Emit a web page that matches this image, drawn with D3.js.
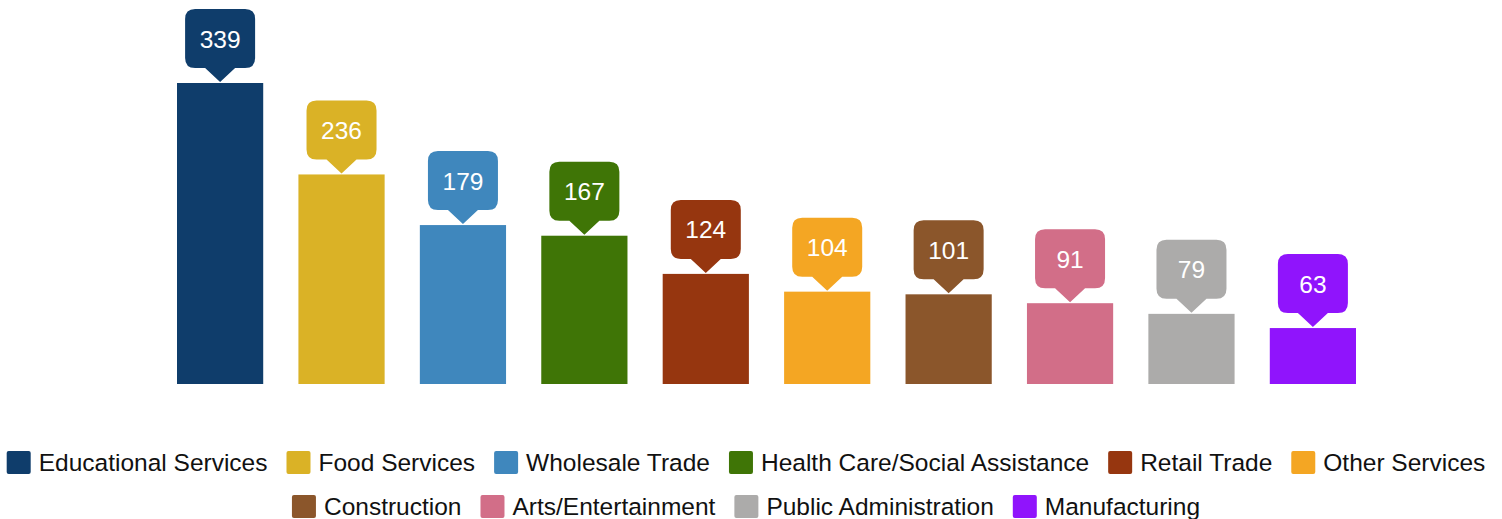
<!DOCTYPE html>
<html>
<head>
<meta charset="utf-8">
<script src="https://cdn.jsdelivr.net/npm/d3@7"></script>
<style>
  body { margin: 0; background: #fff; }
  text { font-family: "Liberation Sans", Arial, sans-serif; }
</style>
</head>
<body>
<div class="chart"></div>
<script>
var svgWidth = 1502;
var svgHeight = 519;

// chart data
var categories = ["Educational Services", "Food Services", "Wholesale Trade", "Health Care/Social Assistance",
  "Retail Trade", "Other Services", "Construction", "Arts/Entertainment", "Public Administration", "Manufacturing"];
var values = [339, 236, 179, 167, 124, 104, 101, 91, 79, 63];
var colors = ["#0f3d6b", "#dab226", "#3f87bd", "#3f7506", "#96360f", "#f4a623", "#8b562b", "#d26e88", "#acabaa", "#9014fc"];
var legendRows = [6, 4];

var svg = d3.select(".chart")
  .append("svg")
  .attr("width", svgWidth)
  .attr("height", svgHeight);

var data = categories.map((c, i) => ({ name: c, value: values[i], color: colors[i] }));

var xScale = d3.scaleBand()
  .domain(categories)
  .range([177, 1356])
  .paddingInner(0.29)
  .paddingOuter(0);

var yScale = d3.scaleLinear()
  .domain([0, 339])
  .range([384, 83]);

// bars
svg.append("g").selectAll("rect")
  .data(data)
  .enter()
  .append("rect")
  .attr("x", d => xScale(d.name))
  .attr("y", d => yScale(d.value))
  .attr("width", xScale.bandwidth())
  .attr("height", d => yScale(0) - yScale(d.value))
  .attr("fill", d => d.color);

// callout labels
var boxW = 70, boxH = 59, r = 10, ptrH = 14, ptrW = 15;
function calloutPath(cx, tipY) {
  var b = tipY - ptrH;      // box bottom
  var t = b - boxH;         // box top
  var l = cx - boxW / 2, rr = cx + boxW / 2;
  return `M${l + r},${t} H${rr - r} Q${rr},${t} ${rr},${t + r} V${b - r} Q${rr},${b} ${rr - r},${b}` +
    ` H${cx + ptrW} L${cx},${tipY} L${cx - ptrW},${b} H${l + r} Q${l},${b} ${l},${b - r} V${t + r} Q${l},${t} ${l + r},${t} Z`;
}

var labels = svg.append("g").selectAll("g")
  .data(data)
  .enter()
  .append("g");

labels.append("path")
  .attr("d", d => calloutPath(xScale(d.name) + xScale.bandwidth() / 2, yScale(d.value) - 1))
  .attr("fill", d => d.color);

labels.append("text")
  .attr("x", d => xScale(d.name) + xScale.bandwidth() / 2)
  .attr("y", d => yScale(d.value) - 1 - ptrH - boxH / 2 + 9)
  .attr("text-anchor", "middle")
  .attr("fill", "#fff")
  .attr("font-size", "24.5px")
  .text(d => d.value);

// legend
var legend = svg.append("g");
var rowY = [462, 506];
var start = 0;
legendRows.forEach(function(n, row) {
  var items = data.slice(start, start + n);
  start += n;
  var g = legend.append("g");
  var x = 0;
  items.forEach(function(d) {
    var item = g.append("g").attr("transform", `translate(${x},0)`);
    item.append("rect")
      .attr("x", 0)
      .attr("y", rowY[row] - 11)
      .attr("width", 24)
      .attr("height", 23)
      .attr("rx", 2)
      .attr("fill", d.color);
    var t = item.append("text")
      .attr("x", 32)
      .attr("y", rowY[row] + 9)
      .attr("font-size", "24.5px")
      .attr("fill", "#111")
      .text(d.name);
    x += 32 + t.node().getComputedTextLength() + 19;
  });
  var total = x - 19;
  g.attr("transform", `translate(${746 - total / 2},0)`);
});
</script>
</body>
</html>
